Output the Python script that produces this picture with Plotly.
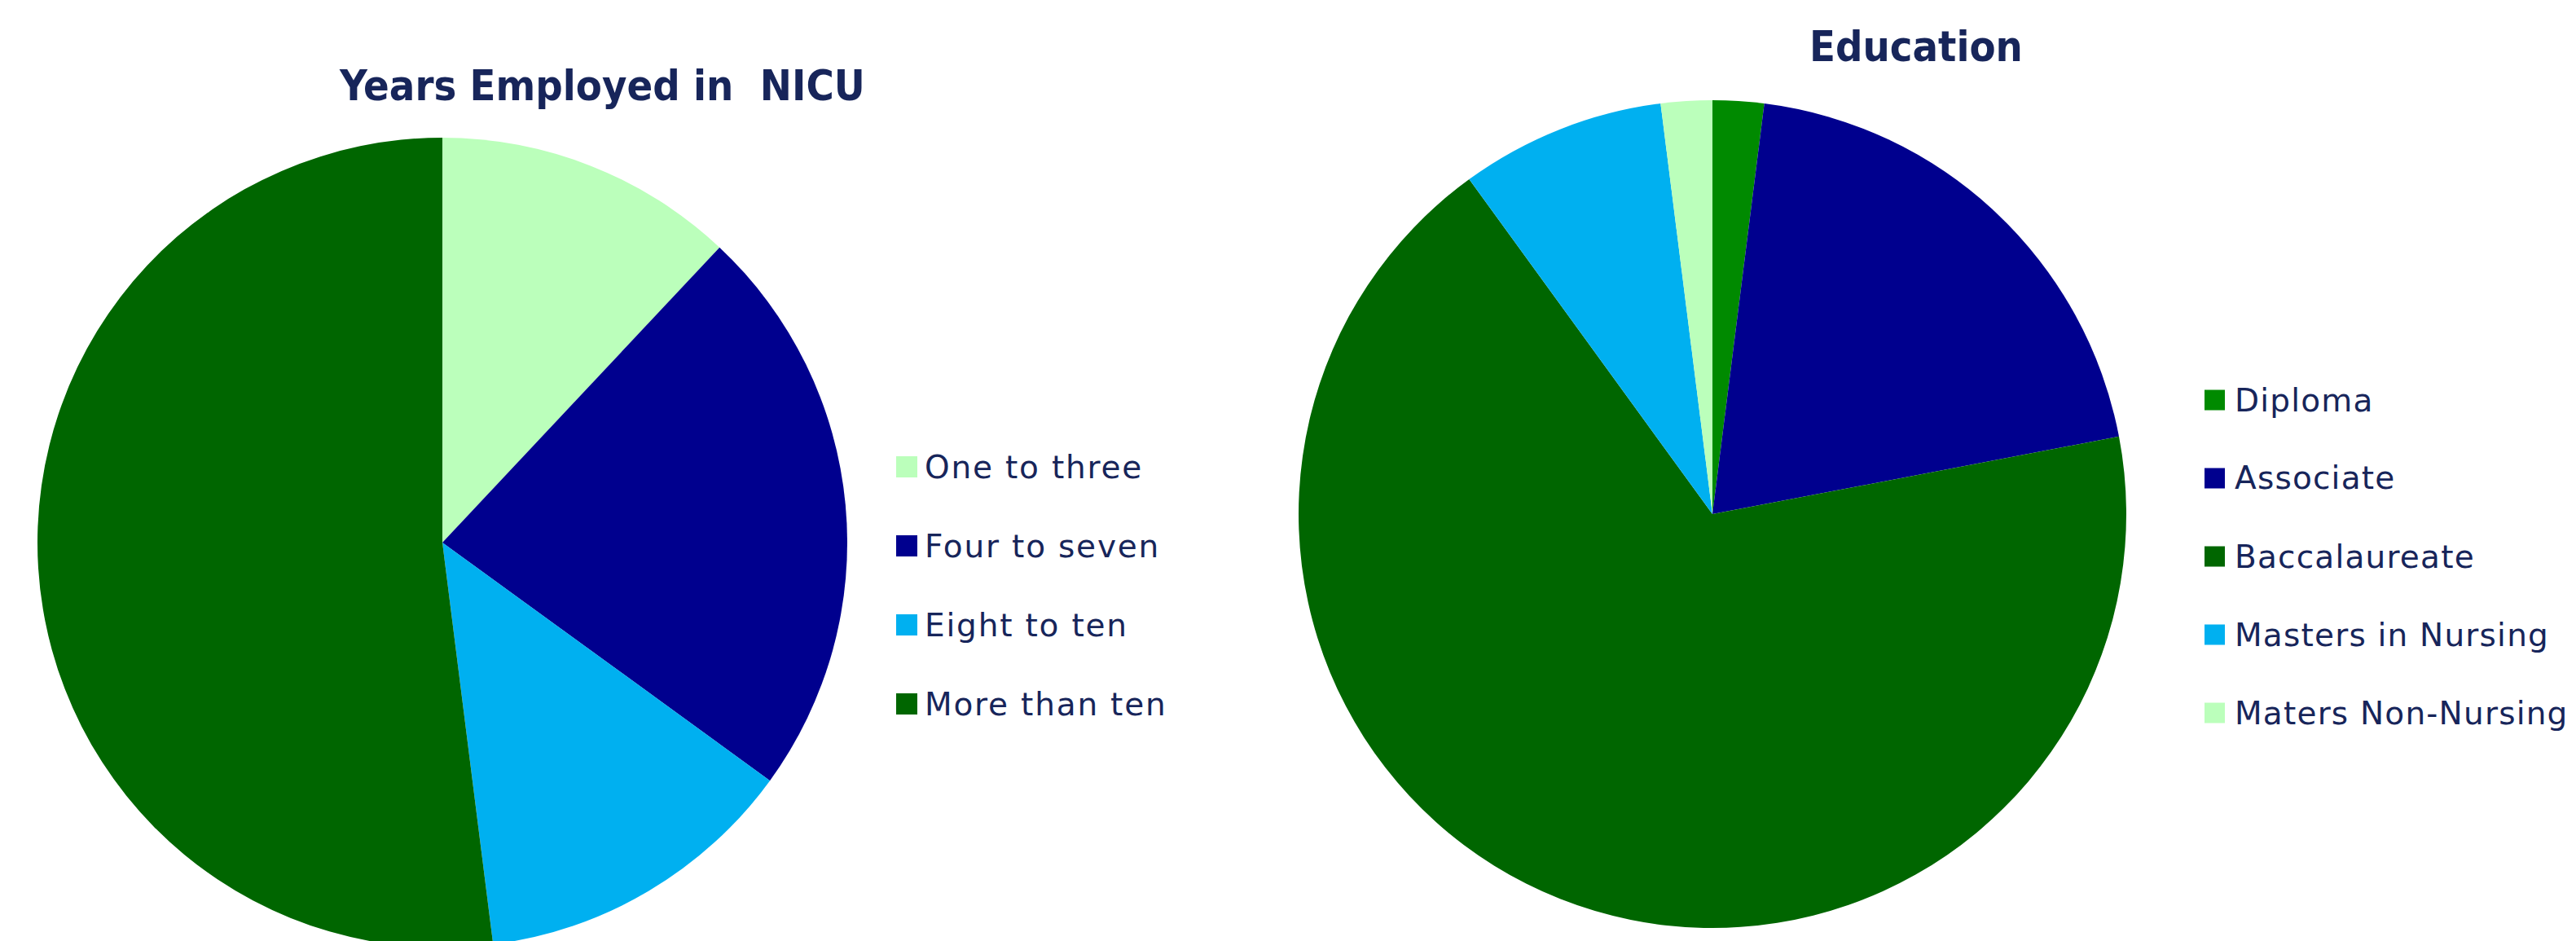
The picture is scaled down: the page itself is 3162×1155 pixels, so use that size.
import plotly.graph_objects as go

# ---- data ----
years_labels = ["One to three", "Four to seven", "Eight to ten", "More than ten"]
years_values = [12, 23, 13, 52]
years_colors = ["#BBFFBB", "#00008E", "#00B0F0", "#006600"]

edu_labels = ["Diploma", "Associate", "Baccalaureate", "Masters in Nursing", "Maters Non-Nursing"]
edu_values = [2, 20, 68, 8, 2]
edu_colors = ["#008A00", "#00008E", "#006600", "#00B0F0", "#BBFFBB"]

titles = ["Years Employed in  NICU", "Education"]

W, H = 3162, 1155
OFF = 8  # page margin compensation
TEXT = "#17255A"
TITLE_FONT = "DejaVu Sans Condensed, DejaVu Sans, sans-serif"
LEG_FONT = "DejaVu Sans, sans-serif"


def px(x):
    return (x - OFF) / W


def py(y):
    return 1 - (y - OFF) / H


fig = go.Figure()

# left pie: window centre (543, 667), r 498 (bottom clipped by the page)
fig.add_trace(go.Pie(
    labels=years_labels, values=years_values,
    marker=dict(colors=years_colors, line=dict(width=0)),
    sort=False, direction="clockwise", rotation=0,
    textinfo="none", showlegend=False,
    domain=dict(x=[px(543 - 498), px(543 + 498)], y=[0, py(169)]),
))

# right pie: window centre (2102, 631), r 508
fig.add_trace(go.Pie(
    labels=edu_labels, values=edu_values,
    marker=dict(colors=edu_colors, line=dict(width=0)),
    sort=False, direction="clockwise", rotation=0,
    textinfo="none", showlegend=False,
    domain=dict(x=[px(2102 - 508), px(2102 + 508)], y=[py(1139), py(123)]),
))

annotations = []
shapes = []

# titles
annotations.append(dict(text="<b>%s</b>" % titles[0], x=px(739), y=py(105),
                        xref="paper", yref="paper", xanchor="center", yanchor="middle",
                        showarrow=False, font=dict(family=TITLE_FONT, size=52, color=TEXT)))
annotations.append(dict(text="<b>%s</b>" % titles[1], x=px(2352), y=py(57),
                        xref="paper", yref="paper", xanchor="center", yanchor="middle",
                        showarrow=False, font=dict(family=TITLE_FONT, size=52, color=TEXT)))


def add_legend(labels, colors, sx, tx, y0, step, sw, spacing):
    for i, (lab, col) in enumerate(zip(labels, colors)):
        cy = y0 + i * step
        shapes.append(dict(type="rect", xref="paper", yref="paper",
                           x0=px(sx), x1=px(sx + sw), y0=py(cy + sw / 2), y1=py(cy - sw / 2),
                           fillcolor=col, line=dict(width=0)))
        annotations.append(dict(text='<span style="letter-spacing:%.1fpx">%s</span>' % (spacing, lab),
                                x=px(tx), y=py(cy),
                                xref="paper", yref="paper", xanchor="left", yanchor="middle",
                                showarrow=False, font=dict(family=LEG_FONT, size=39, color=TEXT)))


add_legend(years_labels, years_colors, 1100, 1133, 573, 97, 26, 1.8)
add_legend(edu_labels, edu_colors, 2706, 2741, 491, 96, 25, 1.2)

fig.update_layout(
    width=W, height=H,
    margin=dict(l=0, r=0, t=0, b=0),
    paper_bgcolor="white", plot_bgcolor="white",
    annotations=annotations, shapes=shapes,
    showlegend=False,
)

fig.write_html("out.html")
